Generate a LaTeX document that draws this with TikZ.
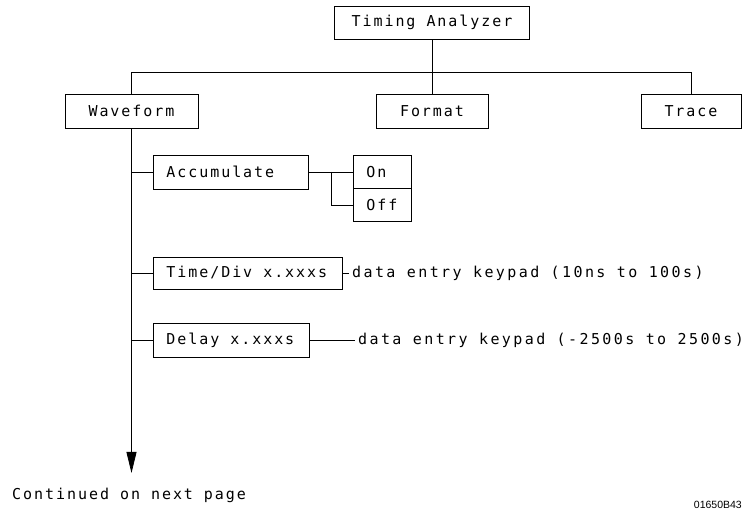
\documentclass[tikz,border=0pt]{standalone}
\usepackage{fontspec}
\usetikzlibrary{arrows.meta,calc}
\newfontfamily\plotfont[LetterSpace=13]{DejaVu Sans Mono}
\newfontfamily\plotwide[LetterSpace=16]{DejaVu Sans Mono}
\newfontfamily\codefont{Liberation Sans}
\tikzset{
  base/.style={font=\plotfont\fontsize{15}{18}\selectfont},
  cbox/.style={base, draw, line width=0.8pt, inner sep=0pt, minimum height=34pt},
  lbox/.style={base, draw, line width=0.8pt, inner xsep=13pt, inner ysep=0pt, minimum height=34pt, anchor=west},
  plain/.style={font=\plotwide\fontsize{15}{18}\selectfont, inner xsep=3pt, inner ysep=0pt, anchor=west},
  conn/.style={line width=0.8pt},
}
\newcommand{\lft}[2]{\makebox[#1][l]{#2}}
\begin{document}
\begin{tikzpicture}[x=1pt,y=-1pt]
\useasboundingbox (0,0) rectangle (753,510);
% top level
\node[cbox, minimum width=195pt, minimum height=33pt] (ta) at (432,22.5) {Timing Analyzer};
\node[cbox, minimum width=133pt] (wave) at (131.5,111) {Waveform};
\node[cbox, minimum width=112pt] (fmt) at (432,111) {Format};
\node[cbox, minimum width=100pt] (trace) at (691,111) {Trace};
\coordinate (hr) at (691,72);
\draw[conn] (ta.south) -- (fmt.north);
\draw[conn] (wave.north) |- (hr) -- (trace.north);
% waveform submenu
\node[lbox] (acc) at (153,172) {\lft{129pt}{Accumulate}};
\node[lbox, minimum height=33pt] (on) at (353,172) {\lft{32pt}{On}};
\node[lbox, minimum height=33pt] (off) at (353,205) {\lft{32pt}{Off}};
\node[lbox, minimum height=32pt] (td) at (153,273) {\lft{163pt}{Time/Div x.xxxs}};
\node[lbox] (dl) at (153,340) {\lft{130pt}{Delay x.xxxs}};
\node[plain] (tdtext) at (349,273) {data entry keypad (10ns to 100s)};
\node[plain] (dltext) at (355,340) {data entry keypad (-2500s to 2500s)};
\coordinate (tip) at (131.5,473);
\draw[conn, -{Triangle[length=21pt,width=10pt]}] (wave.south) -- (tip);
\draw[conn] (acc.west) -- (acc.west -| wave.south);
\draw[conn] (td.west) -- (td.west -| wave.south);
\draw[conn] (dl.west) -- (dl.west -| wave.south);
\draw[conn] (acc.east) -- (on.west);
\draw[conn] ($(acc.east)!0.5!(on.west)$) |- (off.west);
\draw[conn] (td.east) -- (tdtext.west);
\draw[conn] (dl.east) -- (dltext.west);
% footer
\node[base, inner sep=0pt, anchor=west] (cont) at (12,495) {Continued on next page};
\node[font=\codefont\fontsize{10.5}{12}\selectfont, inner sep=0pt, anchor=east] (code) at (742,505) {01650B43};
\end{tikzpicture}
\end{document}
